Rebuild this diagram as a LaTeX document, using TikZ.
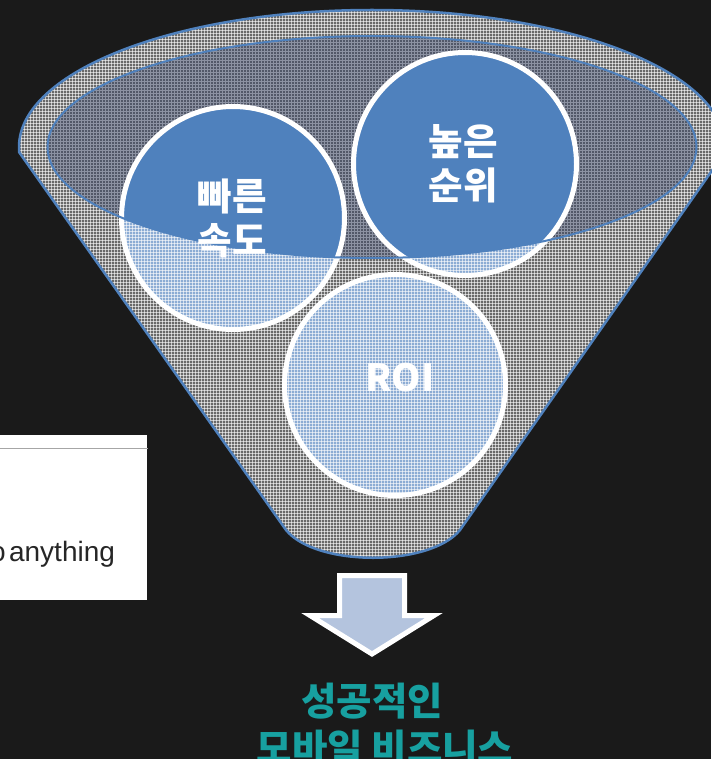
\documentclass[tikz,border=0pt]{standalone}
\usepackage{fontspec}
\newfontfamily\krfont{Noto Sans CJK KR}
\newfontfamily\notefont{Liberation Sans}
\usetikzlibrary{%
        patterns,
        shapes.geometric}
\definecolor{backdrop}{HTML}{1A1A1A}
\definecolor{funnelblue}{HTML}{4F81BD}
\definecolor{mouthgray}{HTML}{525868}
\definecolor{mouthgrid}{HTML}{8C92A2}
\definecolor{arrowfill}{HTML}{B4C4DE}
\definecolor{succteal}{HTML}{17A0A0}
\pgfdeclarepatternformonly{finegrid}{\pgfqpoint{-1pt}{-1pt}}{\pgfqpoint{4pt}{4pt}}%
    {\pgfqpoint{3pt}{3pt}}{%
    \pgfsetlinewidth{0.8pt}
    \pgfpathmoveto{\pgfqpoint{0pt}{0pt}}\pgfpathlineto{\pgfqpoint{3.1pt}{0pt}}
    \pgfpathmoveto{\pgfqpoint{0pt}{0pt}}\pgfpathlineto{\pgfqpoint{0pt}{3.1pt}}
    \pgfusepath{stroke}}
\newcommand{\funneloutline}{(286,530) -- (19,152) -- (19,147)
    arc[start angle=180, end angle=360, x radius=353, y radius=137]
    -- (725,152) -- (460,530) .. controls (430,567) and (316,567) .. (286,530)
    -- cycle}
\tikzset{%
    bubble/.style={circle, draw=white, line width=5pt, fill=funnelblue,
        minimum size=223pt, inner sep=0pt},
    bubbletext/.style={text=white, align=center, inner sep=0pt,
        font=\krfont\bfseries\fontsize{37.5}{44}\selectfont},
    outcome/.style={text=succteal, anchor=base, inner sep=0pt,
        font=\krfont\bfseries\fontsize{38.5}{47}\selectfont}
}

\begin{document}
\begin{tikzpicture}[x=1pt, y=-1pt]

    \fill[backdrop] (0,0) rectangle (711,759);
    \useasboundingbox (0,0) rectangle (711,759);

    % opening of the funnel
    \fill[mouthgray] (372,147) ellipse[x radius=324.5, y radius=111];
    \fill[pattern=finegrid, pattern color=mouthgrid]
        (372,147) ellipse[x radius=324.5, y radius=111];

    \node[bubble] (speed) at (233,218) {};
    \node[bubble] (rank) at (465,164) {};
    \node[bubble, minimum size=221pt] (roi) at (395,385) {};

    % front of the funnel
    \fill[white, opacity=0.35, even odd rule] \funneloutline
        (372,147) ellipse[x radius=324.5, y radius=111];
    \fill[pattern=finegrid, pattern color=white, opacity=0.6, even odd rule]
        \funneloutline (372,147) ellipse[x radius=324.5, y radius=111];

    \draw[funnelblue, line width=2.5pt] \funneloutline;
    \draw[funnelblue, line width=2pt]
        (372,147) ellipse[x radius=324.5, y radius=111];

    \node[bubbletext] (speedtxt) at (232,218) {빠른\\속도};
    \node[bubbletext] (ranktxt) at (463,164) {높은\\순위};
    \node[bubbletext] (roitxt) at (400,378) {ROI};

    \draw[white, line width=5pt, fill=arrowfill, miter limit=20]
        (339.5,575.5) -- (404.5,575.5) -- (404.5,615.5) -- (434,615.5)
        -- (372,654) -- (310,615.5) -- (339.5,615.5) -- cycle;

    \node[outcome] (succtop) at (372,715) {성공적인};
    \node[outcome] (succbot) at (385,762) {모바일 비즈니스};

    \fill[white] (0,435) rectangle (147,600);
    \draw[gray!70, line width=1pt] (0,448.5) -- (148,448.5);
    \node[anchor=base west, inner sep=0pt, text=black!85,
        font=\notefont\fontsize{28}{32}\selectfont] (note) at (-10,561)
        {o\hspace{0.12em}anything};

\end{tikzpicture}
\end{document}
